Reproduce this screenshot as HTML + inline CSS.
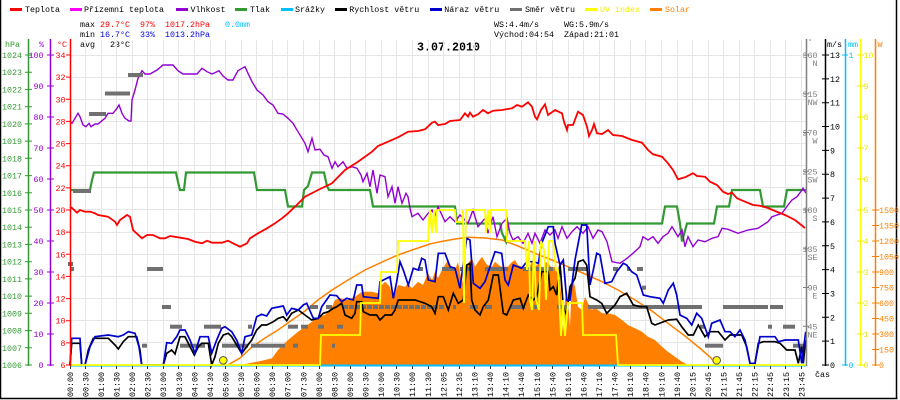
<!DOCTYPE html>
<html><head><meta charset="utf-8"><style>
html,body{margin:0;padding:0;background:#fff;}
svg{display:block;}
text{font-family:"Liberation Mono",monospace;font-size:8.33px;}
</style></head><body>
<svg width="900" height="400" viewBox="0 0 900 400" xmlns="http://www.w3.org/2000/svg">
<rect x="0" y="0" width="900" height="400" fill="#fff"/>
<!-- border -->
<path d="M0.5 0V399 M0 398.5H897.5 M896.5 0V399" stroke="#000" stroke-width="1.5" fill="none"/>

<!-- legend -->
<rect x="10" y="8" width="12" height="3" fill="#ff0000"/><text x="25" y="12">Teplota</text>
<rect x="70" y="8" width="12" height="3" fill="#ff00ff"/><text x="84" y="12">Přízemní teplota</text>
<rect x="176" y="8" width="12" height="3" fill="#9400d3"/><text x="190.5" y="12">Vlhkost</text>
<rect x="235" y="8" width="12" height="3" fill="#339933"/><text x="250" y="12">Tlak</text>
<rect x="281" y="8" width="12" height="3" fill="#00c0ff"/><text x="295" y="12">Srážky</text>
<rect x="335" y="8" width="12" height="3" fill="#000"/><text x="349.3" y="12">Rychlost větru</text>
<rect x="430" y="8" width="12" height="3" fill="#0000cc"/><text x="444.3" y="12">Náraz větru</text>
<rect x="510" y="8" width="12" height="3" fill="#707070"/><text x="525" y="12">Směr větru</text>
<rect x="585" y="8" width="12" height="3" fill="#ffff00"/><text x="600" y="12" fill="#eeee00">UV index</text>
<rect x="650" y="8" width="12" height="3" fill="#ff8000"/><text x="665" y="12" fill="#ff8000">Solar</text>

<!-- stats -->
<text x="80" y="27">max</text><text x="100" y="27" fill="#ff0000">29.7°C</text><text x="140" y="27" fill="#ff0000">97%</text><text x="165" y="27" fill="#ff0000">1017.2hPa</text><text x="225" y="27" fill="#00c0ff">0.0mm</text>
<text x="80" y="37">min</text><text x="100" y="37" fill="#0000e0">16.7°C</text><text x="140" y="37" fill="#0000e0">33%</text><text x="165" y="37" fill="#0000e0">1013.2hPa</text>
<text x="80" y="47">avg</text><text x="110" y="47">23°C</text>
<text x="494" y="27">WS:4.4m/s</text><text x="564" y="27">WG:5.9m/s</text>
<text x="494" y="37">Východ:04:54</text><text x="564" y="37">Západ:21:01</text>
<text x="417" y="50.5" font-weight="bold" style="font-size:12px" textLength="63" lengthAdjust="spacingAndGlyphs">3.07.2010</text>

<!-- grid -->
<path d="M70.5 40V365 M85.5 40V365 M101.5 40V365 M116.5 40V365 M132.5 40V365 M147.5 40V365 M163.5 40V365 M178.5 40V365 M194.5 40V365 M210.5 40V365 M225.5 40V365 M241.5 40V365 M256.5 40V365 M272.5 40V365 M287.5 40V365 M303.5 40V365 M319.5 40V365 M334.5 40V365 M350.5 40V365 M365.5 40V365 M381.5 40V365 M396.5 40V365 M412.5 40V365 M428.5 40V365 M443.5 40V365 M459.5 40V365 M474.5 40V365 M490.5 40V365 M505.5 40V365 M521.5 40V365 M536.5 40V365 M552.5 40V365 M568.5 40V365 M583.5 40V365 M599.5 40V365 M614.5 40V365 M630.5 40V365 M645.5 40V365 M661.5 40V365 M677.5 40V365 M692.5 40V365 M708.5 40V365 M723.5 40V365 M739.5 40V365 M754.5 40V365 M770.5 40V365 M785.5 40V365 M801.5 40V365
M70 55.5H806 M70 77.5H806 M70 99.5H806 M70 121.5H806 M70 143.5H806 M70 165.5H806 M70 187.5H806 M70 209.5H806 M70 232.5H806 M70 254.5H806 M70 276.5H806 M70 298.5H806 M70 320.5H806 M70 342.5H806" stroke="#e6e6e6" stroke-width="1" fill="none"/>

<!-- solar fill -->
<polygon fill="#ff8000" points="240,365 245,364 257,361.7 265,360 272,358.3 278,350 288,340 298,331.7 310,323.3 318,316.7 325,315 332,306.7 335,300 340,298.3 348,300 355,296.7 362,291.7 372,291.7 378,293.3 380,286.7 385,281.7 390,286.7 393,298.3 398,285 405,286.7 408,283.3 412,288.3 418,281.7 423,285 428,273.3 432,280 435,271.7 438,278 442,270 448,260 452,268 455,270 458,262 462,283.3 465,270 468,263.3 472,258 475,266.7 478,262 482,256.7 487,265 492,266.7 495,261.7 500,266 502,266.7 508,266.7 512,262 515,260 518,265 522,266.7 528,270 532,262 535,266.7 540,262 542,270 546,262 548,263.3 552,268 555,266.7 558,275 560,280 562,310 563,333.3 565,300 567,290 569,315 570,326.7 572,276.7 575,286.7 578,306.7 582,310 585,296.7 588,303.3 592,310 595,306.7 598,310 602,313.3 608,313.3 615,315 622,320 628,325 635,328.3 642,331.7 648,336.7 655,340 662,346.7 668,351.7 675,356.7 682,361.7 685,363.3 688,365"/>
<!-- solar theoretical -->
<polyline fill="none" stroke="#ff8000" stroke-width="1.5" points="228,365 240,358 252,347 265,338 278,330 292,320 305,311 318,300 332,290 348,280 365,270 382,262 398,255 415,249 430,244 440,241.7 455,239 468,237.3 485,238 502,240 518,246 535,253.3 552,260 568,266.7 585,274 602,281.7 618,290 635,300 652,311 668,323.3 685,336 702,350 710,357 716,364"/>

<!-- pressure -->
<polyline fill="none" stroke="#339933" stroke-width="2.2" points="70,190 90,190 92,180 94,172.5 176,172.5 178,182 180,190 184,190 186,172.5 254,172.5 257,190 285,190 288,206.5 302,206.5 304,190 308,186 312,172.5 324,172.5 327,186 329,190 370,190 373,206.5 455,206.5 457,223.5 500,223.5 502,233 506,241.5 508,223.5 662,223.5 665,206.5 677,206.5 680,223.5 682,241.5 687,223.5 714,223.5 717,206.5 729,206.5 732,190 760,190 763,206.5 784,206.5 787,190 806,190"/>

<!-- humidity -->
<polyline fill="none" stroke="#9400d3" stroke-width="1.4" points="70,121.7 72,123.3 75,118.3 78,113.3 80,116.7 83,125 86,126.7 89,123.3 91,126.7 95,124 98,124 102,120.7 105,118.3 108,113.3 113,113.3 117,108.3 119,105 122,113.3 125,118.3 129,121 131,121 132,100 135,90 138,78.3 142,70.7 145,74 150,74 157,70 163,65 173,65 178,70.7 183,74 197,74 202,68.3 207,71.7 212,74 217,71.7 219,70.7 223,76 228,80 233,80 238,70.7 245,66.7 248,73.3 252,81.7 257,90 263,95 268,101.7 273,105 278,113.3 283,114 288,118.3 293,123.3 298,131.7 302,138.3 305,143.3 308,151.7 312,138.3 315,150 320,149.3 324,155 328,156.7 332,168.3 335,161.7 338,166.7 343,161.7 347,168.3 352,166.7 357,168.3 361,175 363,181.7 367,173.3 370,186.7 373,170 377,193.3 380,175 385,176.7 388,196.7 392,186.7 395,203.3 398,186.7 402,203.3 406,193.3 408,196.7 410,208.3 412,216.7 418,213.3 423,220 428,213.3 432,210 435,216.7 438,206.7 445,221.7 450,216.7 455,221.7 460,215 468,223.3 473,210 478,226.7 485,218.3 488,233.3 493,216.7 497,236.7 502,223.3 507,218.3 510,233.3 513,240 518,236.7 523,243.3 528,233.3 532,243.3 535,233.3 540,243.3 545,230 550,235 555,230 558,238.3 562,226.7 567,238.3 572,231.7 577,226.7 583,233.3 588,226.7 593,238.3 598,230 602,231.7 607,241.7 612,261.7 620,263.3 627,258.3 633,253.3 640,246.7 643,236.7 648,240 653,236.7 658,243.3 663,236.7 668,233.3 672,226.7 678,236.7 682,230 685,246.7 688,236.7 693,246.7 698,240 705,241.7 712,238.3 718,236.7 722,228.3 728,229.3 738,233.3 748,230 758,228.3 768,221.7 772,216.7 782,213.3 788,205 792,200 797,196.7 802,190 803,188.3 806,193.3"/>

<!-- temperature -->
<polyline fill="none" stroke="#ff0000" stroke-width="1.8" points="70,206.7 72,208 77,212.7 80,210 85,211.7 90,211.7 95,213.3 98,215 108,216.7 115,221.7 117,225 120,220 127,215 130,216.7 133,230 142,238.3 147,235 153,235 160,238.3 165,238.3 170,236 178,237.3 188,239 195,241.7 202,243.3 207,240.7 212,242.7 222,242.7 228,240.7 233,243.3 240,246.7 247,243.3 250,238.3 258,233.3 267,228.3 275,223.3 282,218.3 288,213.3 295,206.7 305,196.7 318,190 332,183.3 345,170 358,161.7 372,151.7 378,146 388,141.7 398,137.3 408,131.7 418,131 425,129.3 432,122.7 435,121.7 438,125 445,124 450,121 460,120 465,113.3 468,116.7 470,112.7 473,116.7 478,114.3 483,110 488,113.3 493,110.7 502,110 512,108.3 517,105 522,106.7 528,102.3 532,106.7 535,116.7 537,119.3 541,110 545,104.3 548,115 555,110 562,113.3 564,121.7 567,130 568,125 573,125 578,111.7 583,115 587,126.7 589,136 592,130 594,124 597,133.3 602,134 608,130 613,135 622,136 632,140 642,142.7 648,150 653,154.3 662,156.7 668,163.3 673,170 678,179.3 685,177.3 693,173.3 697,176 705,176.7 710,181.7 717,185 723,191.7 728,194 732,192.7 737,198.3 745,201.7 753,205 760,205.7 768,208 775,211 785,215 795,220 805,228"/>

<!-- wind direction -->
<g fill="#707070">
<rect x="73" y="189" width="18" height="4"/><rect x="89" y="112" width="17" height="4"/><rect x="105" y="91.5" width="25" height="4"/><rect x="128" y="73" width="15" height="4"/>
<rect x="68" y="262" width="5" height="4"/><rect x="70" y="267" width="4" height="4"/><rect x="147" y="267" width="16" height="4"/><rect x="162" y="305" width="9" height="4"/>
<rect x="170" y="324.7" width="12" height="4"/><rect x="142" y="343.7" width="5" height="4"/><rect x="180" y="343.7" width="25" height="4"/><rect x="204" y="324.7" width="17" height="4"/>
<rect x="222" y="343.7" width="26" height="4"/><rect x="248" y="324.7" width="4" height="4"/><rect x="251" y="343.7" width="34" height="4"/><rect x="288" y="324.7" width="10" height="4"/>
<rect x="293" y="343.7" width="5" height="4"/><rect x="301" y="324.7" width="7" height="4"/><rect x="310" y="305" width="8" height="4"/><rect x="318" y="324.7" width="6" height="4"/>
<rect x="326" y="305" width="6" height="4"/><rect x="332" y="343.7" width="3" height="4"/><rect x="337" y="324.7" width="6" height="4"/>
<rect x="418" y="267" width="5" height="4"/><rect x="442" y="267" width="13" height="4"/><rect x="460" y="267" width="10" height="4"/><rect x="485" y="267" width="23" height="4"/>
<rect x="523" y="267" width="30" height="4"/><rect x="568" y="267" width="20" height="4"/><rect x="613" y="267" width="5" height="4"/><rect x="627" y="267" width="3" height="4"/><rect x="637" y="267" width="6" height="4"/><rect x="642" y="285.7" width="4" height="4"/>
<rect x="453" y="305" width="3" height="4"/><rect x="470" y="305" width="8" height="4"/><rect x="485" y="305" width="7" height="4"/><rect x="510" y="305" width="15" height="4"/><rect x="534" y="305" width="3" height="4"/><rect x="557" y="305" width="11" height="4"/>
<rect x="588" y="305" width="114" height="4"/><rect x="723" y="305" width="45" height="4"/><rect x="770" y="305" width="13" height="4"/>
<rect x="700" y="324.7" width="5" height="4"/><rect x="768" y="324.7" width="4" height="4"/><rect x="783" y="324.7" width="12" height="4"/>
<rect x="705" y="343.7" width="18" height="4"/><rect x="793" y="343.7" width="13" height="4"/>
</g>
<path d="M343 307H445" stroke="#707070" stroke-width="4" stroke-dasharray="5,1" fill="none"/>

<!-- wind speed -->
<polyline fill="none" stroke="#000" stroke-width="1.7" points="70,365 71.7,343.3 80,343.3 81.7,365 85,365 88.3,350 93.3,338.3 108.3,338.3 115,345 118.3,349 123.3,341.7 128.3,336.7 136.7,336.7 140,350 141.7,365 163.3,365 166.7,353.3 171.7,350 175,354 180,336.7 185,336.7 190,346.7 194.3,355 198.3,346.7 201.7,343.3 208.3,343.3 211.7,365 215,356.7 218.3,343.3 223.3,335 228.3,333.3 231.7,336.7 236.7,345 241.7,353.3 246.7,346.7 251.7,340 256.7,330 261.7,325 266.7,325 273.3,321.7 278.3,318.3 283.3,316.7 286.7,320.7 291.7,313.3 298.3,310 305,315 311.7,320 318.3,318.3 323.3,313.3 328.3,311.7 333.3,308.3 336.7,306.7 341.7,303.3 345,315 351.7,318.3 355,313.3 356.7,301.7 361.7,301.7 363.3,311.7 370,315 376.7,315 380,320 385,315 391.7,315 395,310 398.3,300 415,300 425,303.3 431.7,306.7 435,313.3 438.3,296.7 443.3,296.7 448.3,310 453.3,293.3 458.3,303.3 463.3,300 466.7,265 470,263.3 471.7,300 475,310 480,315 483.3,306.7 488.3,300 493.3,275 498.3,275 503.3,313.3 506.7,315 513.3,300 520,298.3 523.3,308.3 528.3,295 533.3,300 536.7,296.7 541.7,271.7 548.3,271.7 550,290 553.3,286.7 556.7,295 560,263.3 563.3,306.7 566.7,315 570,286.7 575,278.3 578.3,261.7 583.3,260 586.7,265 590,296.7 596.7,300 601.7,303.3 606.7,313.3 610,310 615,305 620,296.7 626.7,293.3 633.3,305 640,306.7 646.7,306.7 651.7,323.3 655,325 668.3,320 676.7,319.3 681.7,326.7 688.3,335 693.3,335 698.3,325 705,336.7 710,331.7 718.3,331.7 725,340 730,335 741.7,335 746.7,346.7 750,363.3 755,363.3 758.3,343.3 763.3,341.7 775,341.7 780,343.3 786.7,350 795,350 798.3,363.3 801.7,346.7 803.3,363.3 805.7,340"/>
<!-- gust -->
<polyline fill="none" stroke="#0000cc" stroke-width="1.7" points="70,365 71.7,338.3 80,338.3 81.7,365 85,365 90,346.7 95,336.7 108.3,335 118.3,336.7 123.3,335 128.3,331.7 135,333.3 139,346.7 141.7,365 163.3,365 166.7,342.7 171.7,343.3 176.7,336.7 180,330 185,330 190,340 195,353.3 200,336.7 208.3,336.7 211.7,353.3 216.7,340 221.7,328.3 225,326.7 231.7,331.7 236.7,340 241.7,353.3 245,336.7 251.7,335 256.7,316.7 261.7,314.3 266.7,316 271.7,308.3 283.3,306 286.7,315 291.7,308.3 298.3,310 303.3,305 306.7,303.3 313.3,318.3 318.3,318.3 321.7,306.7 330,295 336.7,295.7 341.7,301.7 346.7,298.3 353.3,300 356.7,285 361.7,285 363.3,296.7 378.3,298.3 380,281.7 390,276.7 393.3,298.3 396.7,281.7 400,261.7 403.3,270 408.3,285 413.3,268.3 418.3,270 421.7,258.3 425,260 428.3,280 435,281.7 438.3,253.3 445,253.3 450,266.7 455,268.3 460,288.3 466.7,238.3 470,240 473.3,283.3 480,288.3 485,281.7 495,251.7 501.7,253.3 505,280 508.3,285 513.3,265 521.7,268.3 526.7,261.7 533.3,261.7 538.3,263.3 541.7,243.3 548.3,226.7 553.3,226.7 555,243.3 560,265 563.3,260 566.7,300 570,300 575,260 581.7,225 586.7,225 590,285 593.3,270 596.7,253.3 600,255 605,283.3 611.7,281.7 616.7,271.7 623.3,263.3 626.7,265 631.7,271.7 636.7,275 641.7,290 643.3,295 650,296.7 660,298.3 663.3,303.3 668.3,290 673.3,283.3 676.7,295 680,315 686.7,318.3 691.7,325 696.7,313.3 701.7,318.3 708.3,336.7 711.7,323.3 720,320 725,331.7 730,331.7 735,336.7 740,330 745,340 750,363.3 755,363.3 760,336.7 775,336.7 778.3,341.7 785,340 798.3,340 801.7,363.3 805.7,331.7"/>

<!-- rain baseline -->
<path d="M70 365.5H806" stroke="#00c0ff" stroke-width="2" fill="none"/>
<!-- UV -->
<polyline fill="none" stroke="#ffff00" stroke-width="1.8" points="70,365 320,365 321,335 360,335 361,303 380,303 381,272 397,272 398,241 428,241 429,220 430,210 432,233 434,210 436,233 437,210 455,210 456,222 462,222 463,210 464,303 466,210 470,210 485,210 486,233 488,210 490,233 491,210 506,210 507,241 525,241 527,270 529,241 530,300 532,310 534,241 536,300 539,310 541,241 544,250 546,300 549,241 553,241 556,270 558,270 561,336 563,300 565,336 568,303 582,303 583,335 616,335 618,365 806,365"/>
<!-- sun -->
<circle cx="223.3" cy="360.3" r="3.8" fill="#ffff00" stroke="#555" stroke-width="1"/>
<circle cx="716.7" cy="360.3" r="3.8" fill="#ffff00" stroke="#555" stroke-width="1"/>

<!-- x ticks -->
<path d="M70.5 366V369 M85.5 366V369 M101.5 366V369 M116.5 366V369 M132.5 366V369 M147.5 366V369 M163.5 366V369 M178.5 366V369 M194.5 366V369 M210.5 366V369 M225.5 366V369 M241.5 366V369 M256.5 366V369 M272.5 366V369 M287.5 366V369 M303.5 366V369 M319.5 366V369 M334.5 366V369 M350.5 366V369 M365.5 366V369 M381.5 366V369 M396.5 366V369 M412.5 366V369 M428.5 366V369 M443.5 366V369 M459.5 366V369 M474.5 366V369 M490.5 366V369 M505.5 366V369 M521.5 366V369 M536.5 366V369 M552.5 366V369 M568.5 366V369 M583.5 366V369 M599.5 366V369 M614.5 366V369 M630.5 366V369 M645.5 366V369 M661.5 366V369 M677.5 366V369 M692.5 366V369 M708.5 366V369 M723.5 366V369 M739.5 366V369 M754.5 366V369 M770.5 366V369 M785.5 366V369 M801.5 366V369" stroke="#333" stroke-width="1" fill="none"/>

<!-- x labels -->
<g text-anchor="end">
<text transform="translate(72.8,372) rotate(-90)">00:00</text>
<text transform="translate(88.4,372) rotate(-90)">00:30</text>
<text transform="translate(103.9,372) rotate(-90)">01:00</text>
<text transform="translate(119.5,372) rotate(-90)">01:30</text>
<text transform="translate(135.1,372) rotate(-90)">02:00</text>
<text transform="translate(150.6,372) rotate(-90)">02:30</text>
<text transform="translate(166.2,372) rotate(-90)">03:00</text>
<text transform="translate(181.8,372) rotate(-90)">03:30</text>
<text transform="translate(197.3,372) rotate(-90)">04:00</text>
<text transform="translate(212.9,372) rotate(-90)">04:30</text>
<text transform="translate(228.5,372) rotate(-90)">05:00</text>
<text transform="translate(244.0,372) rotate(-90)">05:30</text>
<text transform="translate(259.6,372) rotate(-90)">06:00</text>
<text transform="translate(275.1,372) rotate(-90)">06:30</text>
<text transform="translate(290.7,372) rotate(-90)">07:00</text>
<text transform="translate(306.3,372) rotate(-90)">07:30</text>
<text transform="translate(321.8,372) rotate(-90)">08:00</text>
<text transform="translate(337.4,372) rotate(-90)">08:30</text>
<text transform="translate(353.0,372) rotate(-90)">09:00</text>
<text transform="translate(368.5,372) rotate(-90)">09:30</text>
<text transform="translate(384.1,372) rotate(-90)">10:00</text>
<text transform="translate(399.7,372) rotate(-90)">10:30</text>
<text transform="translate(415.2,372) rotate(-90)">11:00</text>
<text transform="translate(430.8,372) rotate(-90)">11:30</text>
<text transform="translate(446.4,372) rotate(-90)">12:05</text>
<text transform="translate(461.9,372) rotate(-90)">12:35</text>
<text transform="translate(477.5,372) rotate(-90)">13:10</text>
<text transform="translate(493.1,372) rotate(-90)">13:40</text>
<text transform="translate(508.6,372) rotate(-90)">14:10</text>
<text transform="translate(524.2,372) rotate(-90)">14:40</text>
<text transform="translate(539.8,372) rotate(-90)">15:10</text>
<text transform="translate(555.3,372) rotate(-90)">15:40</text>
<text transform="translate(570.9,372) rotate(-90)">16:10</text>
<text transform="translate(586.4,372) rotate(-90)">16:40</text>
<text transform="translate(602.0,372) rotate(-90)">17:10</text>
<text transform="translate(617.6,372) rotate(-90)">17:40</text>
<text transform="translate(633.1,372) rotate(-90)">18:10</text>
<text transform="translate(648.7,372) rotate(-90)">18:40</text>
<text transform="translate(664.3,372) rotate(-90)">19:10</text>
<text transform="translate(679.8,372) rotate(-90)">19:40</text>
<text transform="translate(695.4,372) rotate(-90)">20:15</text>
<text transform="translate(711.0,372) rotate(-90)">20:45</text>
<text transform="translate(726.5,372) rotate(-90)">21:15</text>
<text transform="translate(742.1,372) rotate(-90)">21:45</text>
<text transform="translate(757.7,372) rotate(-90)">22:15</text>
<text transform="translate(773.2,372) rotate(-90)">22:45</text>
<text transform="translate(788.8,372) rotate(-90)">23:15</text>
<text transform="translate(804.4,372) rotate(-90)">23:45</text>
</g>
<text x="815" y="377">čas</text>

<!-- left axes -->
<path d="M28.5 39V366" stroke="#339933" stroke-width="1.5"/>
<path d="M50.5 39V366" stroke="#9400d3" stroke-width="1.5"/>
<path d="M70.5 39V366" stroke="#ff0000" stroke-width="1.5"/>
<text x="5" y="47" fill="#339933">hPa</text>
<text x="39" y="47" fill="#9400d3">%</text>
<text x="57" y="47" fill="#ff0000">°C</text>
<path d="M25 55H32 M25 72.2H32 M25 89.4H32 M25 106.7H32 M25 123.9H32 M25 141.1H32 M25 158.3H32 M25 175.6H32 M25 192.8H32 M25 210H32 M25 227.2H32 M25 244.4H32 M25 261.7H32 M25 278.9H32 M25 296.1H32 M25 313.3H32 M25 330.6H32 M25 347.8H32 M25 365H32" stroke="#339933" stroke-width="1"/>
<g fill="#339933" text-anchor="end">
<text x="22" y="58">1024</text><text x="22" y="75.2">1023</text><text x="22" y="92.4">1022</text><text x="22" y="109.7">1021</text><text x="22" y="126.9">1020</text><text x="22" y="144.1">1019</text><text x="22" y="161.3">1018</text><text x="22" y="178.6">1017</text><text x="22" y="195.8">1016</text><text x="22" y="213">1015</text><text x="22" y="230.2">1014</text><text x="22" y="247.4">1013</text><text x="22" y="264.7">1012</text><text x="22" y="281.9">1011</text><text x="22" y="299.1">1010</text><text x="22" y="316.3">1009</text><text x="22" y="333.6">1008</text><text x="22" y="350.8">1007</text><text x="22" y="368">1006</text>
</g>
<path d="M47 55H54 M47 86H54 M47 117H54 M47 148H54 M47 179H54 M47 210H54 M47 241H54 M47 272H54 M47 303H54 M47 334H54 M47 365H54" stroke="#9400d3" stroke-width="1"/>
<g fill="#9400d3" text-anchor="end">
<text x="43.5" y="58">100</text><text x="43.5" y="89">90</text><text x="43.5" y="120">80</text><text x="43.5" y="151">70</text><text x="43.5" y="182">60</text><text x="43.5" y="213">50</text><text x="43.5" y="244">40</text><text x="43.5" y="275">30</text><text x="43.5" y="306">20</text><text x="43.5" y="337">10</text><text x="43.5" y="368">0</text>
</g>
<path d="M66 55H71 M66 77.1H71 M66 99.3H71 M66 121.4H71 M66 143.6H71 M66 165.7H71 M66 187.9H71 M66 210H71 M66 232.1H71 M66 254.3H71 M66 276.4H71 M66 298.6H71 M66 320.7H71 M66 342.9H71 M66 365H71" stroke="#ff0000" stroke-width="1"/>
<g fill="#ff0000" text-anchor="end">
<text x="65.5" y="58">34</text><text x="65.5" y="80.1">32</text><text x="65.5" y="102.3">30</text><text x="65.5" y="124.4">28</text><text x="65.5" y="146.6">26</text><text x="65.5" y="168.7">24</text><text x="65.5" y="190.9">22</text><text x="65.5" y="213">20</text><text x="65.5" y="235.1">18</text><text x="65.5" y="257.3">16</text><text x="65.5" y="279.4">14</text><text x="65.5" y="301.6">12</text><text x="65.5" y="323.7">10</text><text x="65.5" y="345.9">8</text><text x="65.5" y="368">6</text>
</g>

<!-- right axes -->
<path d="M806.5 39V366" stroke="#808080" stroke-width="1.5"/>
<path d="M825.5 39V366" stroke="#000" stroke-width="1.5"/>
<path d="M845.5 39V366" stroke="#00c0ff" stroke-width="1.5"/>
<path d="M860.5 39V366" stroke="#ffff00" stroke-width="1.5"/>
<path d="M875.5 39V366" stroke="#ff8000" stroke-width="1.5"/>
<text x="808" y="44" fill="#808080" style="font-size:7px">°</text>
<text x="827" y="47">m/s</text>
<text x="848" y="47" fill="#00c0ff">mm</text>
<text x="877.5" y="47" fill="#ff8000">W</text>

<path d="M803 55H809 M803 93.75H809 M803 132.5H809 M803 171.25H809 M803 210H809 M803 248.75H809 M803 287.5H809 M803 326.25H809" stroke="#808080" stroke-width="1"/>
<g fill="#808080" text-anchor="end">
<text x="817.5" y="58">360</text><text x="817.5" y="66">N</text>
<text x="817.5" y="96.8">315</text><text x="817.5" y="104.8">NW</text>
<text x="817.5" y="135.5">270</text><text x="817.5" y="143.5">W</text>
<text x="817.5" y="174.3">225</text><text x="817.5" y="182.3">SW</text>
<text x="817.5" y="213">180</text><text x="817.5" y="221">S</text>
<text x="817.5" y="251.8">135</text><text x="817.5" y="259.8">SE</text>
<text x="817.5" y="290.5">90</text><text x="817.5" y="298.5">E</text>
<text x="817.5" y="329.3">45</text><text x="817.5" y="337.3">NE</text>
</g>

<path d="M822 55H829 M822 78.85H829 M822 102.69H829 M822 126.54H829 M822 150.38H829 M822 174.23H829 M822 198.08H829 M822 221.92H829 M822 245.77H829 M822 269.62H829 M822 293.46H829 M822 317.31H829 M822 341.15H829 M822 365H829" stroke="#000" stroke-width="1"/>
<g fill="#000">
<text x="830" y="58">13</text><text x="830" y="81.9">12</text><text x="830" y="105.7">11</text><text x="830" y="129.5">10</text><text x="830" y="153.4">9</text><text x="830" y="177.2">8</text><text x="830" y="201.1">7</text><text x="830" y="224.9">6</text><text x="830" y="248.8">5</text><text x="830" y="272.6">4</text><text x="830" y="296.5">3</text><text x="830" y="320.3">2</text><text x="830" y="344.2">1</text><text x="830" y="368">0</text>
</g>

<path d="M842 55H848 M842 365H848" stroke="#00c0ff" stroke-width="1"/>
<text x="848.5" y="58" fill="#00c0ff">1</text><text x="848.5" y="368" fill="#00c0ff">0</text>

<path d="M857 55H864 M857 86H864 M857 117H864 M857 148H864 M857 179H864 M857 210H864 M857 241H864 M857 272H864 M857 303H864 M857 334H864 M857 365H864" stroke="#eeee00" stroke-width="1"/>
<g fill="#e8e800">
<text x="863.5" y="58">10</text><text x="863.5" y="89">9</text><text x="863.5" y="120">8</text><text x="863.5" y="151">7</text><text x="863.5" y="182">6</text><text x="863.5" y="213">5</text><text x="863.5" y="244">4</text><text x="863.5" y="275">3</text><text x="863.5" y="306">2</text><text x="863.5" y="337">1</text><text x="863.5" y="368">0</text>
</g>

<path d="M872 210H879 M872 225.5H879 M872 241H879 M872 256.5H879 M872 272H879 M872 287.5H879 M872 303H879 M872 318.5H879 M872 334H879 M872 349.5H879 M872 365H879" stroke="#ff8000" stroke-width="1"/>
<g fill="#ff8000">
<text x="879" y="213">1500</text><text x="879" y="228.5">1350</text><text x="879" y="244">1200</text><text x="879" y="259.5">1050</text><text x="879" y="275">900</text><text x="879" y="290.5">750</text><text x="879" y="306">600</text><text x="879" y="321.5">450</text><text x="879" y="337">300</text><text x="879" y="352.5">150</text><text x="879" y="368">0</text>
</g>
</svg>
</body></html>
